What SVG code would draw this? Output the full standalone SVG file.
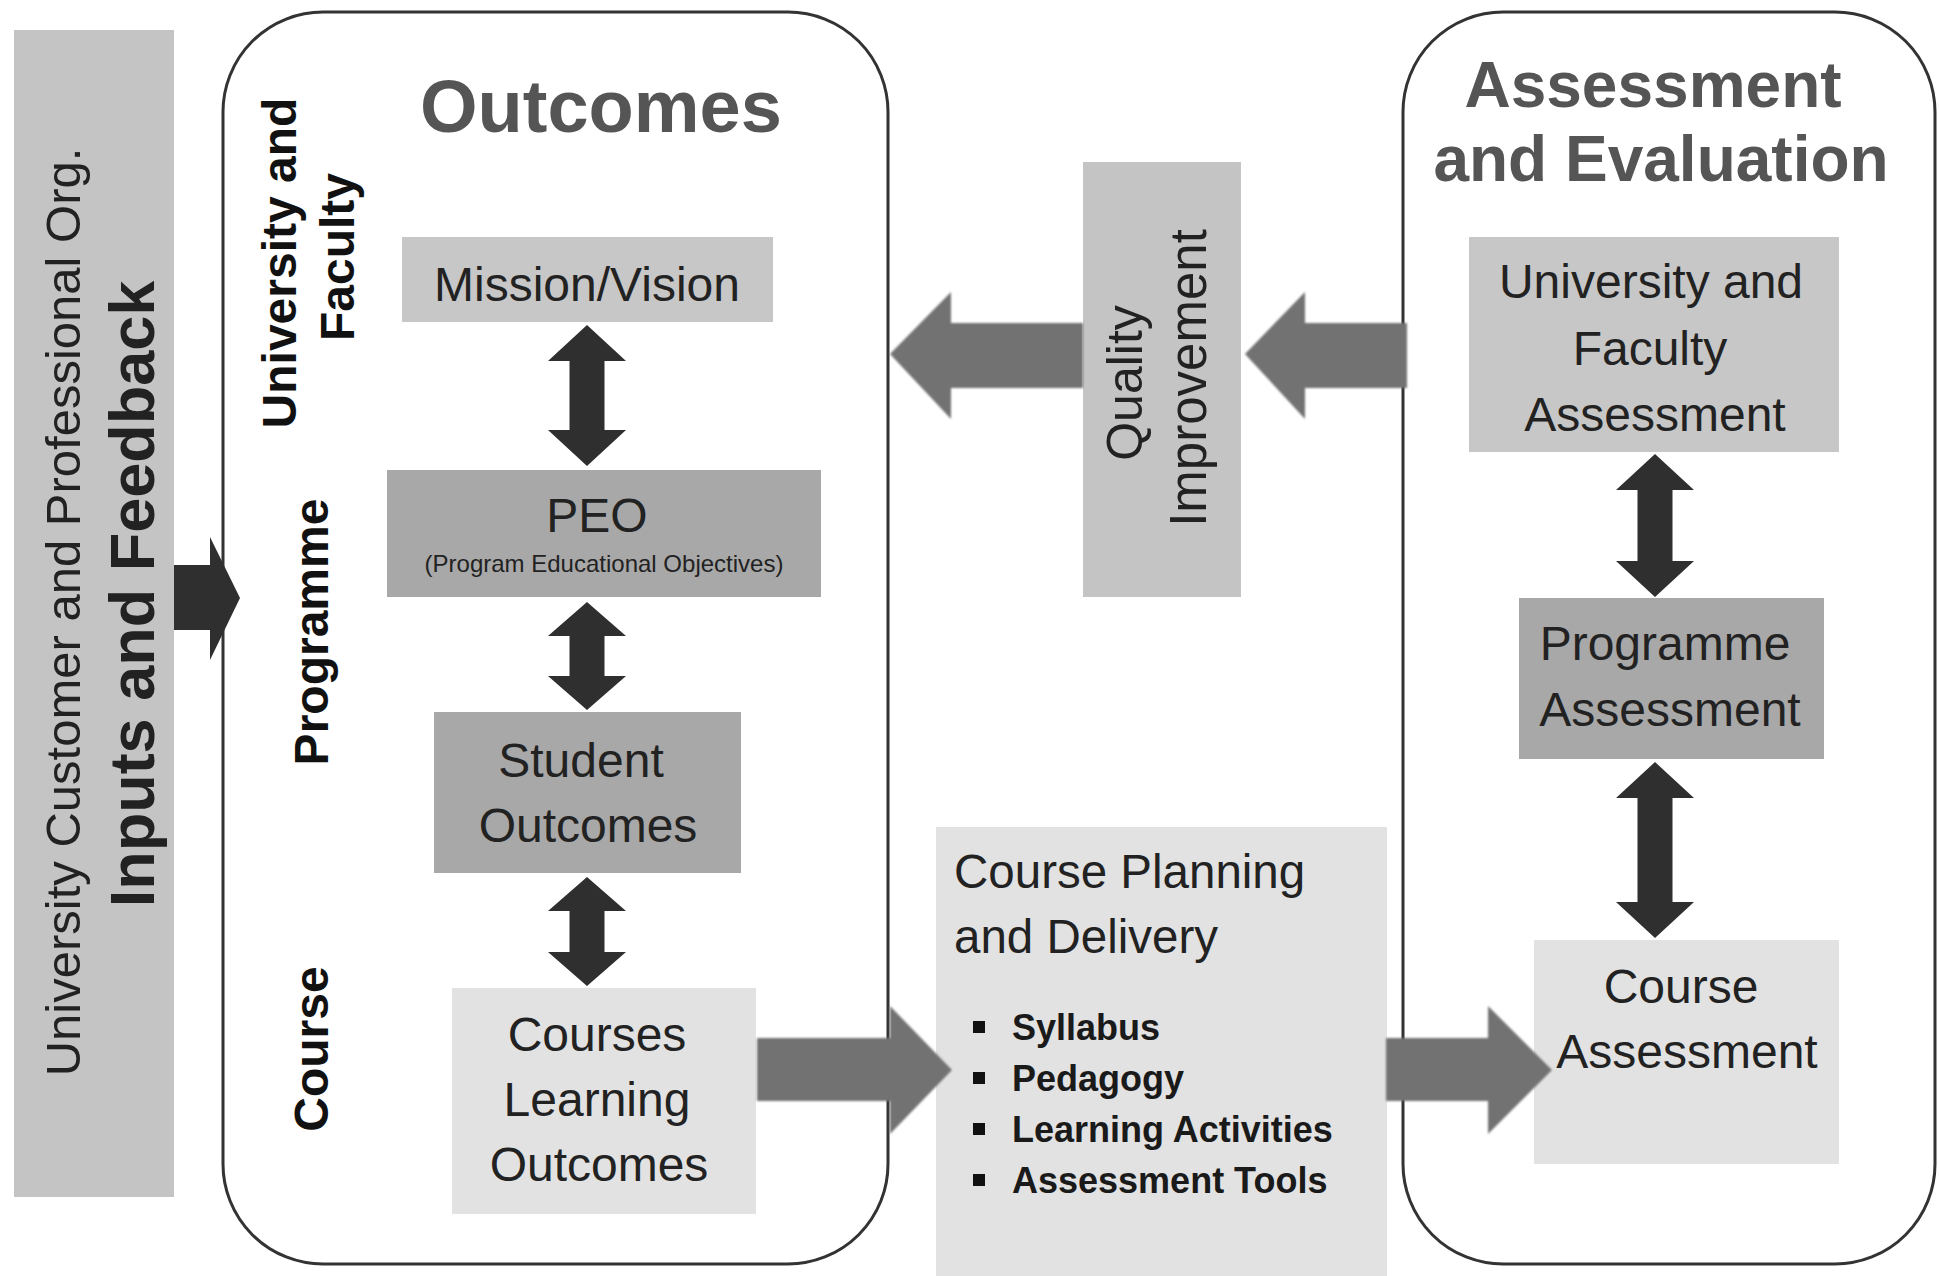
<svg xmlns="http://www.w3.org/2000/svg" width="1939" height="1276" viewBox="0 0 1939 1276">
  <defs>
    <filter id="soft" x="-5%" y="-5%" width="110%" height="110%">
      <feGaussianBlur stdDeviation="1.2"/>
    </filter>
    <style>
      .frame { fill: #ffffff; stroke: #333333; stroke-width: 3; }
      .t { font-family: "Liberation Sans", Arial, sans-serif; fill: #222222; }
      .box { font-size: 48px; text-anchor: middle; }
      .title { font-weight: bold; fill: #555555; text-anchor: middle; }
      .side { font-size: 48px; font-weight: bold; fill: #111111; text-anchor: middle; }
      .bul { font-size: 36px; font-weight: bold; fill: #1a1a1a; }
      .dark { fill: #2f2f2f; }
      .grey { fill: #727272; filter: url(#soft); }
      .light { fill: #e2e2e2; }
      .mid { fill: #c7c7c7; }
      .deep { fill: #a8a8a8; }
    </style>
  </defs>
  <rect width="1939" height="1276" fill="#ffffff"/>

  <!-- Inputs and Feedback bar -->
  <g id="inputs-feedback">
    <rect x="14" y="30" width="160" height="1167" fill="#c4c4c4"/>
    <text class="t" transform="translate(80,612) rotate(-90)" text-anchor="middle" font-size="49" fill="#444444">University Customer and Professional Org.</text>
    <text class="t" transform="translate(154,594) rotate(-90)" text-anchor="middle" font-size="63" font-weight="bold" fill="#111111">Inputs and Feedback</text>
  </g>

  <!-- Outcomes container -->
  <g id="outcomes">
    <rect class="frame" x="223" y="12" width="665" height="1252" rx="100" ry="100"/>
    <text class="t title" x="601" y="132" font-size="74">Outcomes</text>
    <text class="t side" transform="translate(296,263) rotate(-90)">University and</text>
    <text class="t side" transform="translate(354,257) rotate(-90)">Faculty</text>
    <text class="t side" transform="translate(328,632) rotate(-90)">Programme</text>
    <text class="t side" transform="translate(328,1049) rotate(-90)">Course</text>
  </g>

  <g id="mission-vision">
    <rect class="mid" x="402" y="237" width="371" height="85"/>
    <text class="t box" x="587" y="301" font-size="49">Mission/Vision</text>
  </g>

  <g id="peo">
    <rect class="deep" x="387" y="470" width="434" height="127"/>
    <text class="t box" x="597" y="532" font-size="42">PEO</text>
    <text class="t" x="604" y="572" font-size="24" text-anchor="middle" fill="#333333">(Program Educational Objectives)</text>
  </g>

  <g id="student-outcomes">
    <rect class="deep" x="434" y="712" width="307" height="161"/>
    <text class="t box" x="581" y="777">Student</text>
    <text class="t box" x="588" y="842">Outcomes</text>
  </g>

  <g id="courses-learning-outcomes">
    <rect class="light" x="452" y="988" width="304" height="226"/>
    <text class="t box" x="597" y="1051">Courses</text>
    <text class="t box" x="597" y="1116">Learning</text>
    <text class="t box" x="599" y="1181">Outcomes</text>
  </g>

  <g id="quality-improvement">
    <rect fill="#c4c4c4" x="1083" y="162" width="158" height="435"/>
    <text class="t" transform="translate(1142,383) rotate(-90)" text-anchor="middle" font-size="50">Quality</text>
    <text class="t" transform="translate(1206,378) rotate(-90)" text-anchor="middle" font-size="51">Improvement</text>
  </g>

  <g id="course-planning">
    <rect class="light" x="936" y="827" width="451" height="449"/>
    <text class="t" x="954" y="888" font-size="47.5">Course Planning</text>
    <text class="t" x="954" y="953" font-size="47.5">and Delivery</text>
    <rect x="973" y="1021" width="12" height="12" fill="#111111"/>
    <text class="t bul" x="1012" y="1040">Syllabus</text>
    <rect x="973" y="1072" width="12" height="12" fill="#111111"/>
    <text class="t bul" x="1012" y="1091">Pedagogy</text>
    <rect x="973" y="1123" width="12" height="12" fill="#111111"/>
    <text class="t bul" x="1012" y="1142">Learning Activities</text>
    <rect x="973" y="1174" width="12" height="12" fill="#111111"/>
    <text class="t bul" x="1012" y="1193">Assessment Tools</text>
  </g>

  <!-- Assessment and Evaluation container -->
  <g id="assessment-evaluation">
    <rect class="frame" x="1403" y="12" width="532" height="1252" rx="100" ry="100"/>
    <text class="t title" x="1653" y="107" font-size="64">Assessment</text>
    <text class="t title" x="1661" y="181" font-size="64">and Evaluation</text>
  </g>

  <g id="university-faculty-assessment">
    <rect class="mid" x="1469" y="237" width="370" height="215"/>
    <text class="t box" x="1651" y="298">University and</text>
    <text class="t box" x="1650" y="365">Faculty</text>
    <text class="t box" x="1655" y="431">Assessment</text>
  </g>

  <g id="programme-assessment">
    <rect class="deep" x="1519" y="598" width="305" height="161"/>
    <text class="t box" x="1665" y="660">Programme</text>
    <text class="t box" x="1670" y="726">Assessment</text>
  </g>

  <g id="course-assessment">
    <rect class="light" x="1534" y="940" width="305" height="224"/>
    <text class="t box" x="1681" y="1003">Course</text>
    <text class="t box" x="1687" y="1068">Assessment</text>
  </g>

  <!-- Connectors -->
  <g id="connectors">
    <path class="dark" d="M174,565 L210,565 L210,537 L240,598 L210,660 L210,630 L174,630 Z"/>
    <path class="dark" d="M587,325 L626,361 L604.5,361 L604.5,430 L626,430 L587,466 L548,430 L569.5,430 L569.5,361 L548,361 Z"/>
    <path class="dark" d="M587,602 L626,636 L604.5,636 L604.5,676 L626,676 L587,710 L548,676 L569.5,676 L569.5,636 L548,636 Z"/>
    <path class="dark" d="M587,877 L626,911 L604.5,911 L604.5,952 L626,952 L587,986 L548,952 L569.5,952 L569.5,911 L548,911 Z"/>
    <path class="dark" d="M1655,454 L1694,490 L1672.5,490 L1672.5,561 L1694,561 L1655,597 L1616,561 L1637.5,561 L1637.5,490 L1616,490 Z"/>
    <path class="dark" d="M1655,762 L1694,798 L1672.5,798 L1672.5,902 L1694,902 L1655,938 L1616,902 L1637.5,902 L1637.5,798 L1616,798 Z"/>
    <path class="grey" d="M890,354 L951,292 L951,323 L1083,323 L1083,388 L951,388 L951,419 Z"/>
    <path class="grey" d="M1245,354 L1305,292 L1305,323 L1407,323 L1407,388 L1305,388 L1305,419 Z"/>
    <path class="grey" d="M757,1038 L890,1038 L890,1006 L952,1070 L890,1134 L890,1101 L757,1101 Z"/>
    <path class="grey" d="M1386,1038 L1488,1038 L1488,1006 L1552,1070 L1488,1134 L1488,1101 L1386,1101 Z"/>
  </g>
</svg>
